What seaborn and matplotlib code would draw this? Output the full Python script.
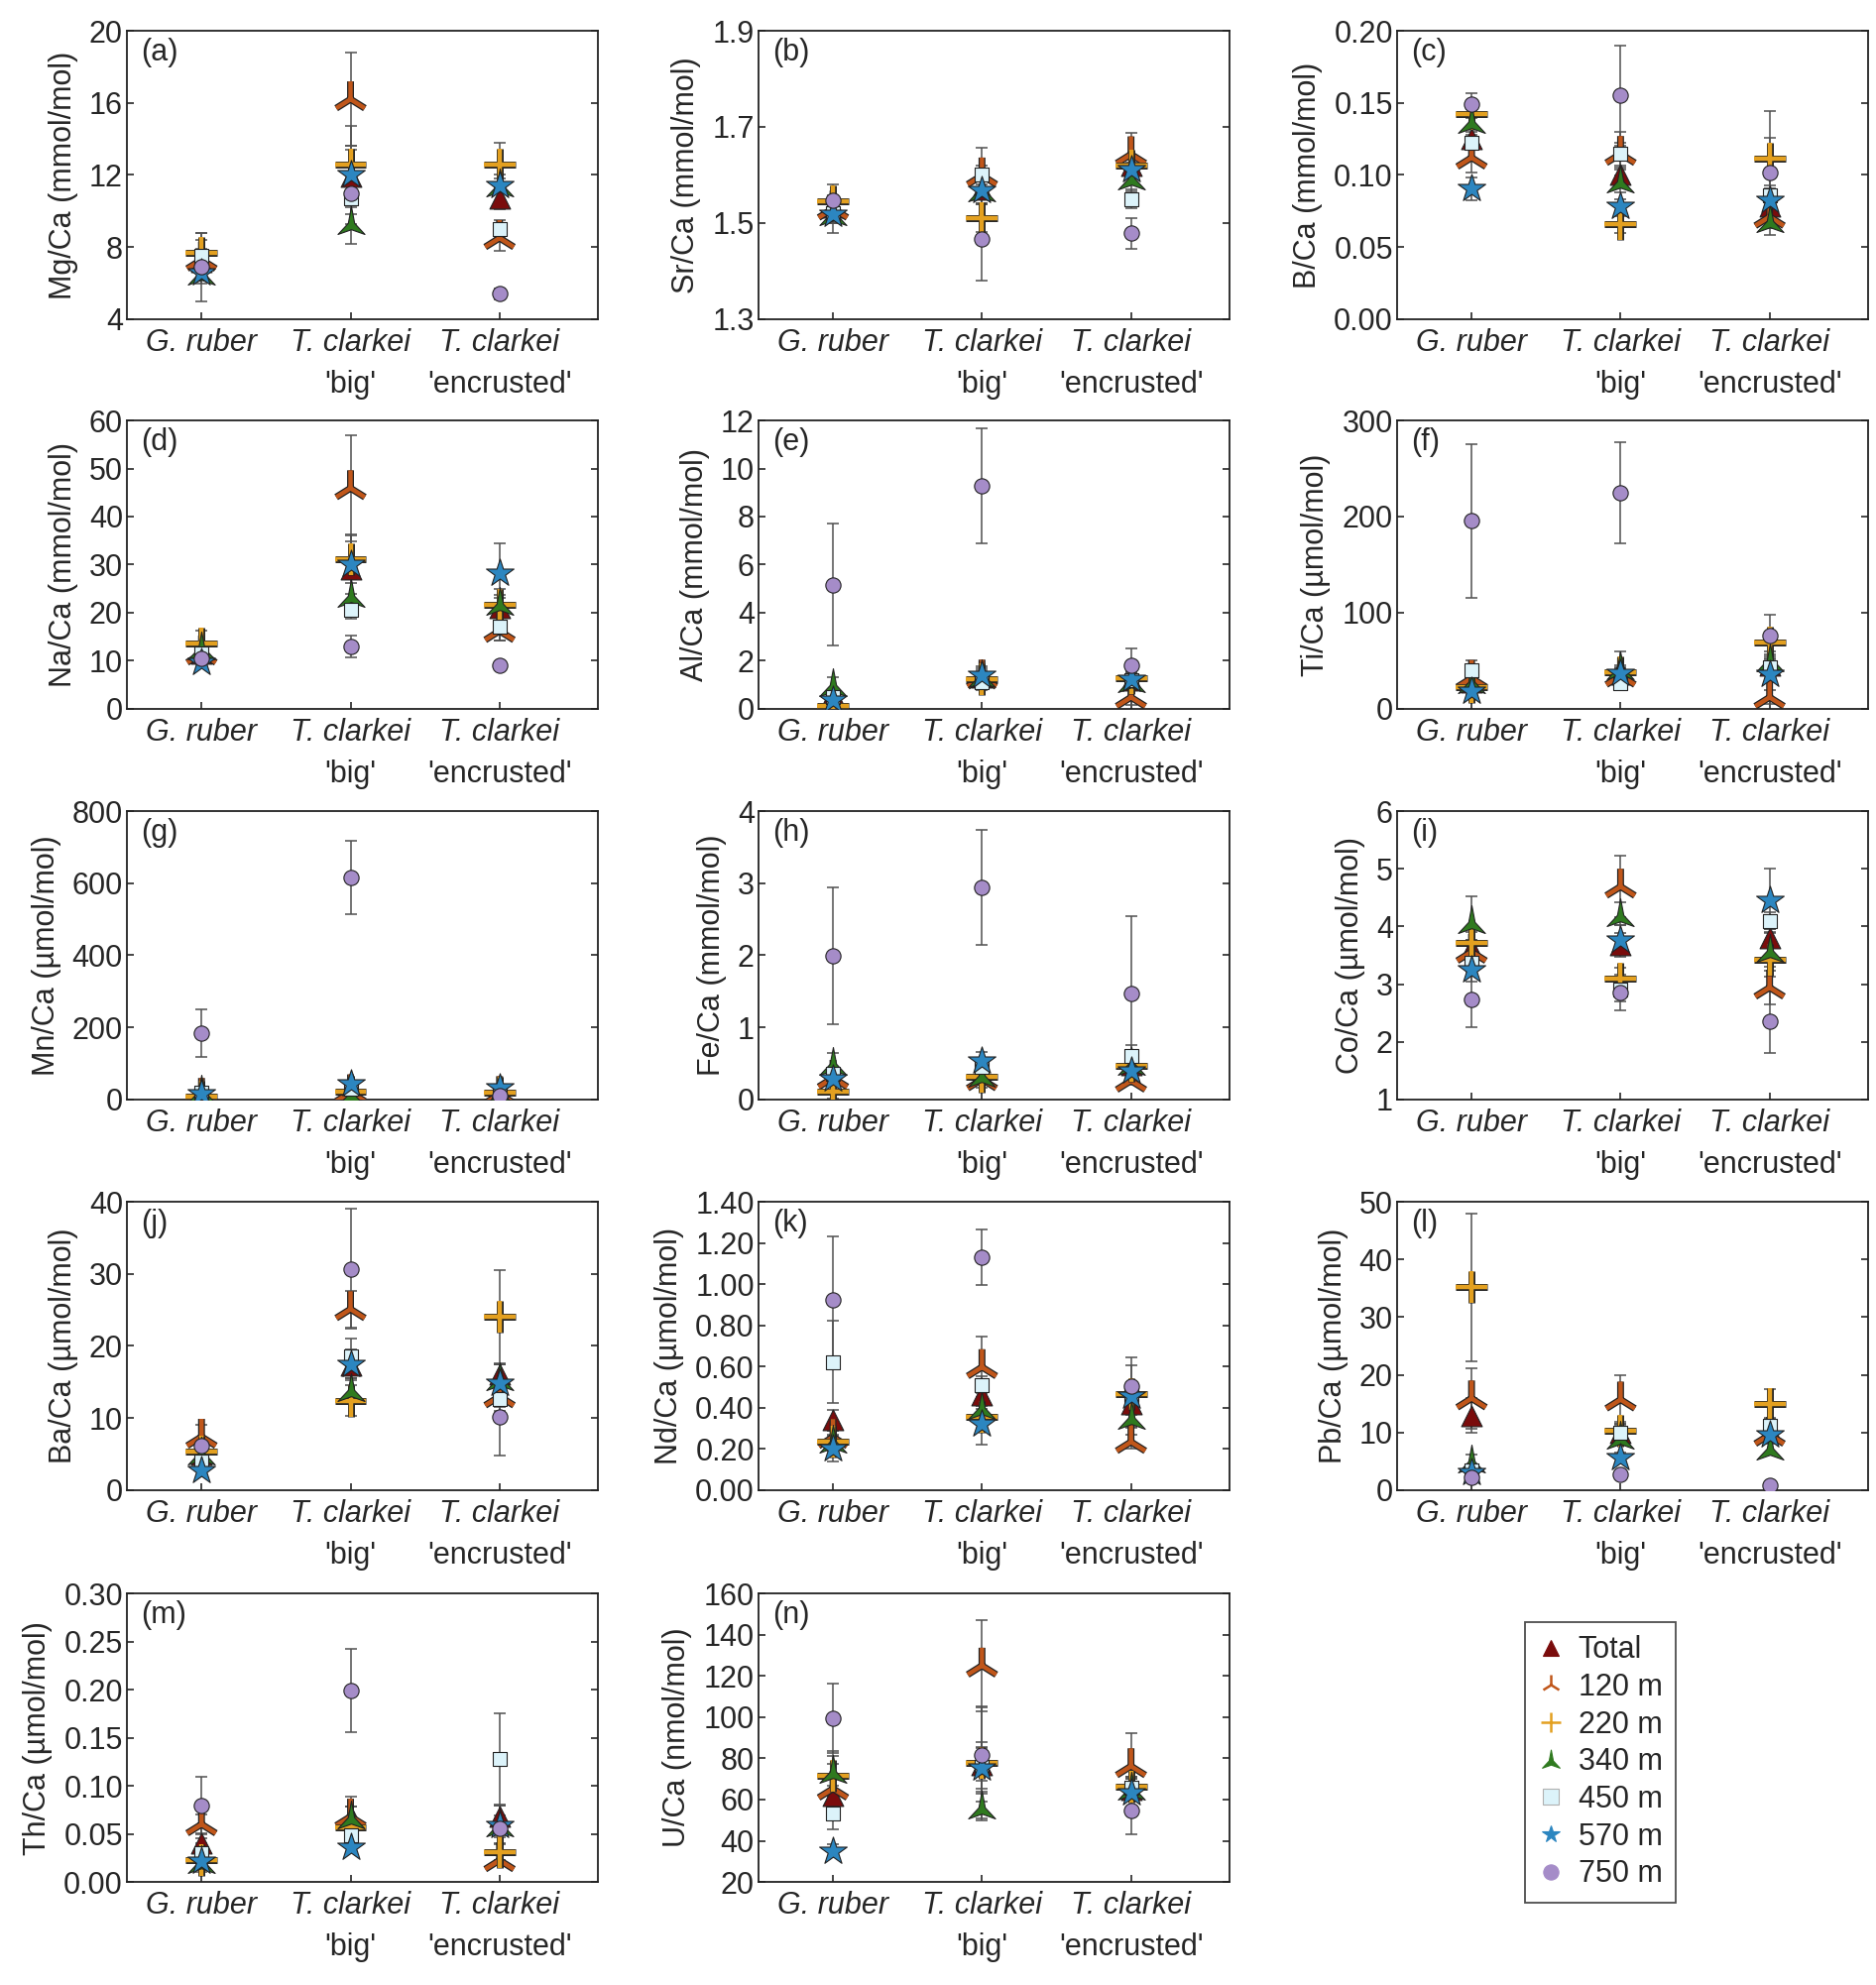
import numpy as np
import matplotlib
matplotlib.use('Agg')
import matplotlib.pyplot as plt
import matplotlib.patheffects as pe
from matplotlib.path import Path
from matplotlib.lines import Line2D
import seaborn as sns

species = ['G. ruber', 'T. clarkei', 'T. clarkei']
morphs = ['', "'big'", "'encrusted'"]
depths = ['Total', '120 m', '220 m', '340 m', '450 m', '570 m', '750 m']

# rows: Total, 120, 220, 340, 450, 570, 750 ; cols: G. ruber, big, encrusted
mg_val = [[7.2, 11.9, 10.7], [7.3, 16.2, 8.5], [7.7, 12.6, 12.6], [6.6, 9.4, 11.5],
          [7.5, 10.7, 9.0], [6.6, 12.0, 11.4], [6.9, 11.0, 5.4]]
mg_err = [[0.5, 1.5, 0.6], [0.6, 2.6, 0.7], [0.7, 1.0, 1.2], [0.4, 1.2, 0.5],
          [1.3, 0.9, 0.5], [0.6, 2.7, 0.4], [1.9, 0.8, 0.3]]

sr_val = [[1.533, 1.570, 1.620], [1.530, 1.599, 1.643], [1.545, 1.511, 1.619], [1.520, 1.570, 1.595],
          [1.520, 1.600, 1.550], [1.519, 1.569, 1.612], [1.548, 1.466, 1.479]]
sr_err = [[0.02, 0.02, 0.02], [0.05, 0.057, 0.045], [0.01, 0.03, 0.02], [0.02, 0.03, 0.03],
          [0.02, 0.02, 0.02], [0.02, 0.03, 0.02], [0.01, 0.086, 0.032]]

b_val = [[0.125, 0.100, 0.078], [0.112, 0.1146, 0.071], [0.1425, 0.0657, 0.1116], [0.1375, 0.096, 0.0687],
         [0.1226, 0.1146, 0.086], [0.0905, 0.078, 0.0825], [0.149, 0.155, 0.1015]]
b_err = [[0.005, 0.005, 0.005], [0.010, 0.015, 0.008], [0.003, 0.006, 0.033], [0.005, 0.008, 0.010],
         [0.005, 0.008, 0.005], [0.008, 0.005, 0.010], [0.008, 0.035, 0.024]]

na_val = [[11.5, 29.0, 21.0], [11.5, 45.9, 16.2], [13.6, 31.2, 21.6], [12.8, 23.7, 22.0],
          [11.5, 20.7, 17.0], [9.7, 30.0, 28.3], [10.6, 13.0, 9.0]]
na_err = [[1.0, 2.0, 2.0], [1.0, 11.0, 2.0], [2.6, 5.0, 2.0], [1.0, 4.0, 3.0],
          [1.0, 2.0, 2.7], [1.0, 6.0, 6.2], [0.5, 2.3, 0.5]]

al_val = [[0.6, 1.3, 1.2], [0.15, 1.3, 0.48], [0.14, 1.24, 1.28], [1.03, 1.4, 1.2],
          [0.5, 1.1, 1.2], [0.35, 1.38, 1.24], [5.17, 9.27, 1.8]]
al_err = [[0.2, 0.2, 0.2], [0.1, 0.3, 0.3], [0.1, 0.3, 0.3], [0.3, 0.3, 0.3],
          [0.2, 0.3, 0.3], [0.2, 0.4, 0.3], [2.55, 2.4, 0.7]]

ti_val = [[28, 40, 45], [32, 34.5, 12], [23, 38, 68.6], [29, 43, 51.7],
          [39.7, 26.5, 43], [18, 37, 36], [195.5, 225, 76.5]]
ti_err = [[5, 5, 8], [18, 8, 7], [5, 5, 12], [5, 17, 8],
          [5, 5, 8], [5, 5, 8], [80, 52.5, 21.5]]

mn_val = [[15, 30, 22], [10, 20, 15], [8, 23, 20], [25, 17, 20],
          [20, 30, 25], [15.6, 43, 34], [184, 616, 11]]
mn_err = [[5, 8, 6], [5, 8, 6], [4, 8, 6], [8, 8, 6],
          [5, 8, 6], [5, 8, 8], [67, 102, 5]]

fe_val = [[0.35, 0.35, 0.48], [0.30, 0.28, 0.26], [0.11, 0.31, 0.46], [0.51, 0.34, 0.51],
          [0.35, 0.45, 0.61], [0.285, 0.54, 0.40], [1.99, 2.94, 1.47]]
fe_err = [[0.05, 0.05, 0.05], [0.05, 0.08, 0.05], [0.10, 0.15, 0.05], [0.13, 0.10, 0.10],
          [0.05, 0.10, 0.15], [0.08, 0.12, 0.10], [0.95, 0.80, 1.07]]

co_val = [[3.62, 3.68, 3.80], [3.56, 4.69, 2.94], [3.71, 3.09, 3.43], [4.10, 4.22, 3.60],
          [3.37, 2.90, 4.10], [3.25, 3.77, 4.45], [2.74, 2.86, 2.36]]
co_err = [[0.15, 0.20, 0.15], [0.20, 0.53, 0.30], [0.20, 0.20, 0.30], [0.43, 0.20, 0.30],
          [0.15, 0.20, 0.15], [0.20, 0.25, 0.56], [0.49, 0.31, 0.56]]

ba_val = [[5.0, 17.3, 16.1], [7.4, 25.1, 13.0], [5.3, 12.4, 24.0], [5.2, 14.0, 15.5],
          [4.0, 18.5, 12.6], [2.76, 17.5, 14.9], [6.2, 30.7, 10.2]]
ba_err = [[1.0, 2.0, 1.5], [1.6, 2.5, 2.0], [1.0, 2.1, 6.5], [1.0, 1.5, 2.0],
          [1.0, 2.5, 1.0], [0.8, 2.0, 2.5], [1.0, 8.3, 5.4]]

nd_val = [[0.339, 0.46, 0.42], [0.258, 0.597, 0.234], [0.234, 0.355, 0.465], [0.24, 0.403, 0.358],
          [0.621, 0.511, 0.46], [0.202, 0.323, 0.455], [0.924, 1.132, 0.503]]
nd_err = [[0.05, 0.05, 0.05], [0.05, 0.15, 0.034], [0.03, 0.04, 0.03], [0.05, 0.05, 0.05],
          [0.20, 0.04, 0.03], [0.065, 0.10, 0.15], [0.31, 0.134, 0.14]]

pb_val = [[12.9, 10.0, 10.5], [15.9, 15.7, 9.6], [35.2, 10.3, 14.9], [5.1, 9.2, 7.3],
          [3.5, 9.9, 11.1], [3.1, 5.6, 9.6], [2.3, 2.7, 0.8]]
pb_err = [[3.0, 1.5, 1.5], [5.2, 4.2, 1.5], [12.8, 1.5, 2.6], [1.0, 1.0, 1.2],
          [0.8, 1.5, 1.5], [0.8, 1.0, 1.2], [0.5, 0.4, 0.2]]

th_val = [[0.040, 0.068, 0.068], [0.060, 0.068, 0.0226], [0.0226, 0.057, 0.031], [0.022, 0.068, 0.060],
          [0.030, 0.049, 0.128], [0.022, 0.0365, 0.059], [0.080, 0.199, 0.056]]
th_err = [[0.005, 0.010, 0.012], [0.010, 0.021, 0.005], [0.012, 0.010, 0.008], [0.005, 0.010, 0.020],
          [0.010, 0.008, 0.047], [0.008, 0.005, 0.010], [0.029, 0.043, 0.010]]

u_val = [[61.7, 77.0, 65.0], [65.3, 125.0, 76.2], [71.4, 78.0, 66.1], [73.8, 56.4, 66.0],
         [53.4, 76.0, 66.0], [35.2, 75.4, 63.3], [99.5, 81.8, 54.8]]
u_err = [[5, 8, 5], [12, 22, 16], [10, 27, 5], [10, 6.7, 5],
         [8, 12, 5], [3, 10, 7], [16.8, 23, 11.5]]

panels = [
    ('(a)', 'Mg/Ca (mmol/mol)', mg_val, mg_err, (4, 20), 4, '%d'),
    ('(b)', 'Sr/Ca (mmol/mol)', sr_val, sr_err, (1.3, 1.9), 0.2, '%.1f'),
    ('(c)', 'B/Ca (mmol/mol)', b_val, b_err, (0, 0.2), 0.05, '%.2f'),
    ('(d)', 'Na/Ca (mmol/mol)', na_val, na_err, (0, 60), 10, '%d'),
    ('(e)', 'Al/Ca (mmol/mol)', al_val, al_err, (0, 12), 2, '%d'),
    ('(f)', 'Ti/Ca (µmol/mol)', ti_val, ti_err, (0, 300), 100, '%d'),
    ('(g)', 'Mn/Ca (µmol/mol)', mn_val, mn_err, (0, 800), 200, '%d'),
    ('(h)', 'Fe/Ca (mmol/mol)', fe_val, fe_err, (0, 4), 1, '%d'),
    ('(i)', 'Co/Ca (µmol/mol)', co_val, co_err, (1, 6), 1, '%d'),
    ('(j)', 'Ba/Ca (µmol/mol)', ba_val, ba_err, (0, 40), 10, '%d'),
    ('(k)', 'Nd/Ca (µmol/mol)', nd_val, nd_err, (0, 1.4), 0.2, '%.2f'),
    ('(l)', 'Pb/Ca (µmol/mol)', pb_val, pb_err, (0, 50), 10, '%d'),
    ('(m)', 'Th/Ca (µmol/mol)', th_val, th_err, (0, 0.3), 0.05, '%.2f'),
    ('(n)', 'U/Ca (nmol/mol)', u_val, u_err, (20, 160), 20, '%d'),
]

colors = ['#7a0c0c', '#c0561a', '#e3a020', '#2f7a1f', '#dcf3fa', '#2c86c0', '#a58cc8']

# concave triangle for 340 m
arrow = Path([(0, 1), (-0.2, -0.05), (-0.85, -0.75), (0, -0.45), (0.85, -0.75), (0.2, -0.05), (0, 1)],
             [Path.MOVETO] + [Path.LINETO] * 5 + [Path.CLOSEPOLY])
markers = ['^', '2', '+', arrow, 's', '*', 'o']
msizes = [15, 26, 23, 23, 10.5, 21, 11]
outline = [pe.Stroke(linewidth=5, foreground='#222222'), pe.Normal()]

sns.set_theme(style='ticks')
plt.rcParams['font.family'] = ['Liberation Sans', 'DejaVu Sans']
plt.rcParams['font.size'] = 22
plt.rcParams['axes.linewidth'] = 1.3

fig = plt.figure(figsize=(18.92, 20.02), dpi=100)
lefts = [0.0677, 0.4043, 0.7447]
bottoms = [0.8392, 0.6429, 0.4461, 0.2493, 0.0519]
w, h = 0.251, 0.1453
xpos = np.arange(3)

for k, (tag, ylab, vals, errs, ylim, step, fmt) in enumerate(panels):
    ax = fig.add_axes([lefts[k % 3], bottoms[k // 3], w, h])
    for i in range(len(depths)):
        ax.errorbar(xpos, vals[i], yerr=errs[i], fmt='none', ecolor='#505050',
                    elinewidth=1.1, capsize=4, capthick=1.1, zorder=1)
    for i in range(len(depths)):
        m = markers[i]
        kw = dict(x=xpos, y=vals[i], marker=m, s=msizes[i] ** 2, color=colors[i],
                  ax=ax, zorder=3 + i, legend=False)
        if m in ('2', '+'):
            kw.update(linewidth=3.2, path_effects=outline)
        else:
            kw.update(edgecolor='#222222', linewidth=0.8)
        sns.scatterplot(**kw)
    ax.set_xlim(-0.5, 2.66)
    ax.set_ylim(*ylim)
    yt = np.arange(ylim[0], ylim[1] + step / 2, step)
    ax.set_yticks(yt)
    ax.set_yticklabels([fmt % t for t in yt], fontsize=22)
    ax.set_xticks(xpos)
    ax.set_xticklabels([])
    ax.tick_params(axis='y', direction='in', right=True, length=5, width=1.2, pad=3)
    ax.tick_params(axis='x', direction='in', length=5, width=1.2)
    ax.set_xlabel('')
    ax.set_ylabel(ylab, fontsize=22, labelpad=8)
    for s in ax.spines.values():
        s.set_visible(True)
        s.set_color('#222222')
    ax.text(0.03, 0.975, tag, transform=ax.transAxes, ha='left', va='top', fontsize=22)
    tr = ax.get_xaxis_transform()
    for j in range(3):
        ax.text(xpos[j], -0.11, species[j], transform=tr, ha='center', va='baseline',
                fontsize=22, fontstyle='italic')
        if morphs[j]:
            ax.text(xpos[j], -0.255, morphs[j], transform=tr, ha='center', va='baseline', fontsize=22)

handles = []
for i in range(len(depths)):
    m = markers[i]
    if m in ('2', '+'):
        hd = Line2D([], [], ls='none', marker=m, ms=14, mew=1.8, color=colors[i])
    else:
        ec = '#b0b0b0' if i == 4 else colors[i]
        size = {3: 15, 5: 13}.get(i, 11)
        hd = Line2D([], [], ls='none', marker=m, ms=size, color=colors[i], mec=ec, mew=0.8)
    handles.append(hd)
leg = fig.legend(handles, depths, loc='upper left', bbox_to_anchor=(0.813, 0.183),
                 borderaxespad=0, fontsize=22, frameon=True, fancybox=False, edgecolor='#222222',
                 handlelength=0.8, handletextpad=0.5, labelspacing=0.25, borderpad=0.45)
leg.get_frame().set_linewidth(1.3)

fig.savefig('out.png', dpi=100)
